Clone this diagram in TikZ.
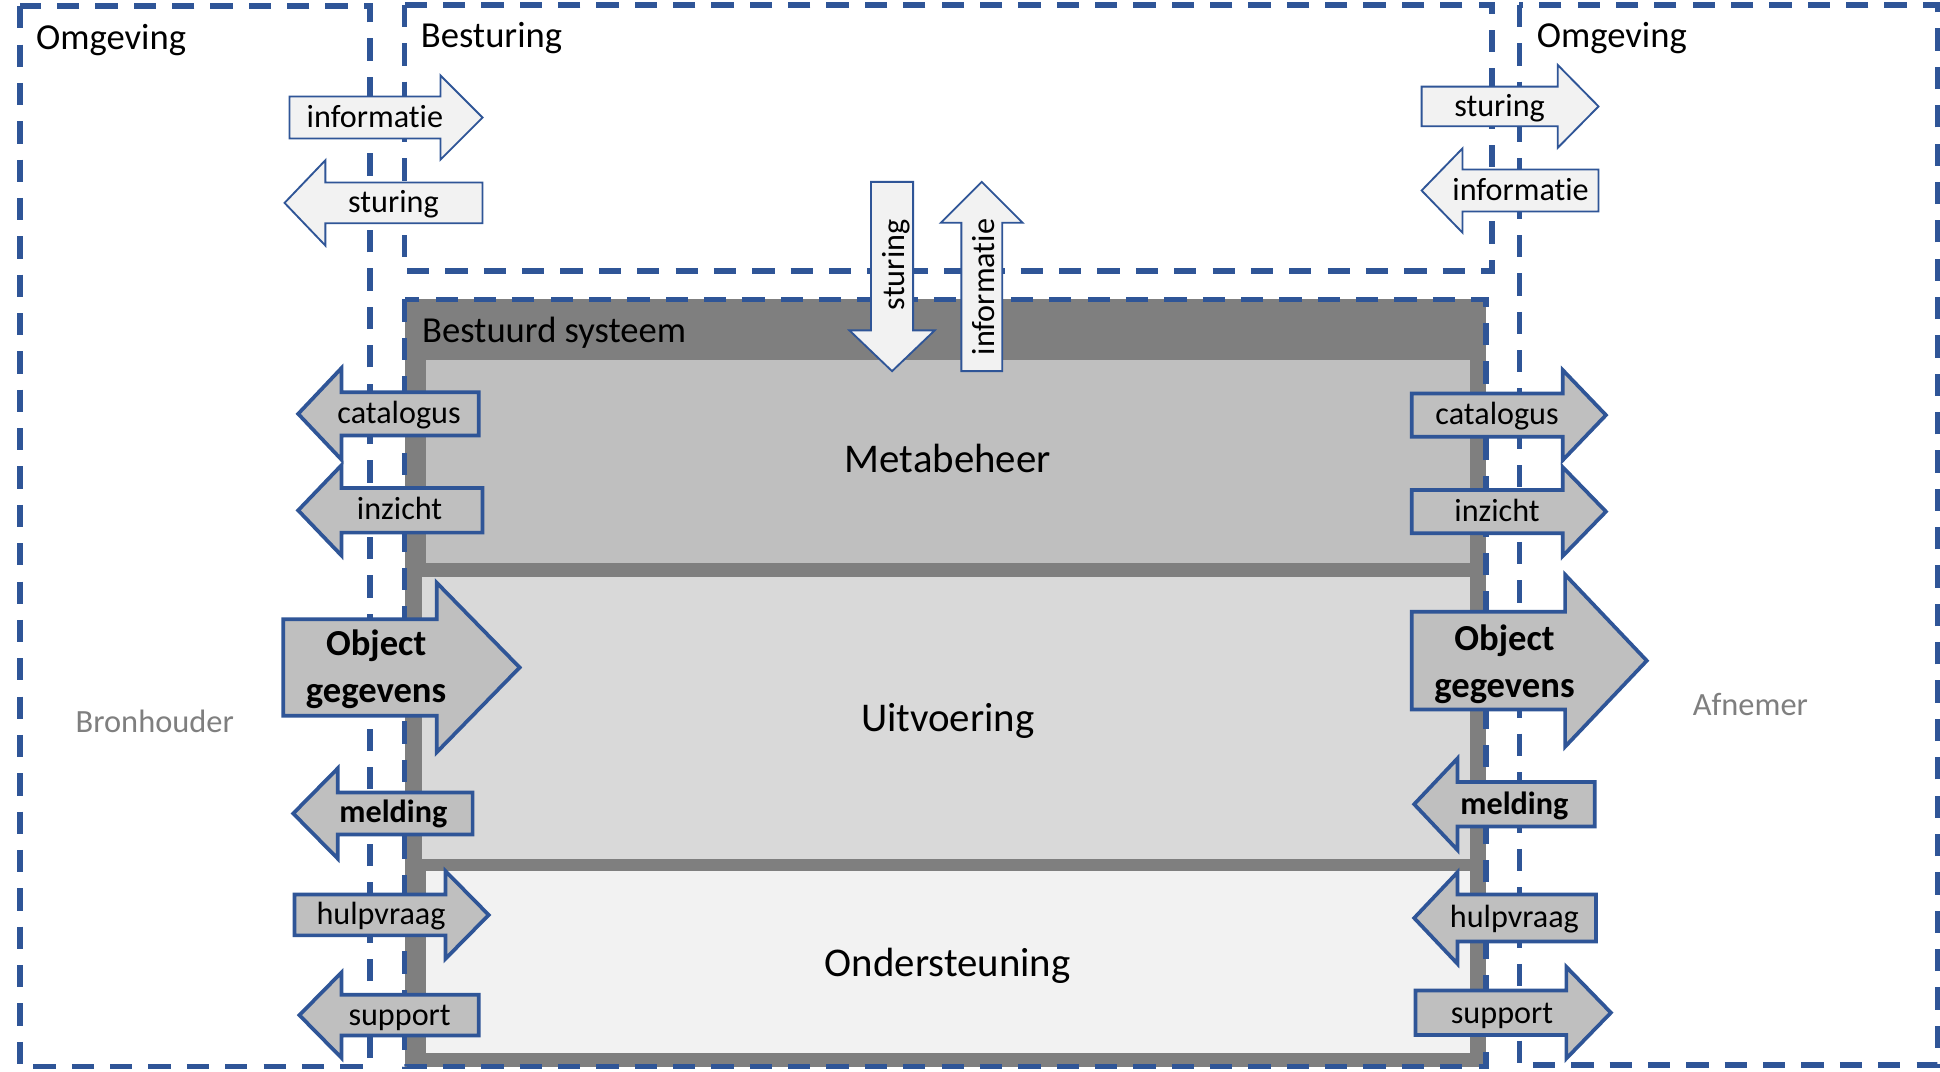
\documentclass[tikz,border=0pt]{standalone}
\usepackage{fontspec}
\setmainfont{Carlito}[Ligatures={NoCommon,NoContextual}]
\definecolor{dblue}{HTML}{2F5597}
\definecolor{outergray}{HTML}{7F7F7F}
\definecolor{metagray}{HTML}{BFBFBF}
\definecolor{uitgray}{HTML}{D9D9D9}
\definecolor{ondgray}{HTML}{F2F2F2}
\definecolor{lightfill}{HTML}{F2F2F2}
\definecolor{arrfill}{HTML}{BFBFBF}
\definecolor{sidetext}{HTML}{7F7F7F}
% horizontal arrow: style, tail x, base x, tip x, centre y, body half, head half
\newcommand\HArrow[7]{%
  \draw[#1] ({#2},{#5-#6}) -- ({#3},{#5-#6}) -- ({#3},{#5-#7}) -- ({#4},{#5})
    -- ({#3},{#5+#7}) -- ({#3},{#5+#6}) -- ({#2},{#5+#6}) -- cycle;}
% vertical arrow: style, tail y, base y, tip y, centre x, body half, head half
\newcommand\VArrow[7]{%
  \draw[#1] ({#5-#6},{#2}) -- ({#5-#6},{#3}) -- ({#5-#7},{#3}) -- ({#5},{#4})
    -- ({#5+#7},{#3}) -- ({#5+#6},{#3}) -- ({#5+#6},{#2}) -- cycle;}
\begin{document}
\begin{tikzpicture}[x=1pt,y=-1pt,
  dbox/.style={draw=dblue, line width=4.5pt, dash pattern=on 18pt off 13pt},
  lightarr/.style={draw=dblue, line width=1.5pt, fill=lightfill, line join=miter},
  grayarr/.style={draw=dblue, line width=3pt, fill=arrfill, line join=miter},
  title/.style={inner sep=0pt, anchor=base west, font=\fontsize{29.6}{35}\selectfont},
  section/.style={inner sep=0pt, anchor=base, font=\fontsize{33}{40}\selectfont},
  side/.style={inner sep=0pt, anchor=base west, text=sidetext, font=\fontsize{26.2}{31}\selectfont},
  lbl/.style={inner sep=0pt, anchor=base, font=\fontsize{26}{31}\selectfont},
  blbl/.style={inner sep=0pt, anchor=base, font=\bfseries\fontsize{26}{31}\selectfont},
  objlbl/.style={inner sep=0pt, anchor=center, align=center, font=\bfseries\fontsize{29.6}{38}\selectfont},
  vlbl/.style={inner sep=0pt, anchor=center, rotate=90, font=\fontsize{26}{31}\selectfont}]
\useasboundingbox (0,0) rectangle (1568,866);
\fill[white] (0,0) rectangle (1568,866);

% environment and control boxes
\draw[dbox] (16,5) rectangle (299,862);
\draw[dbox] (1228,4) rectangle (1566,861);
\draw[dbox] (327,4) rectangle (1206,219);

\node[title] (omgL) at (29,40) {Omgeving};
\node[title] (omgR) at (1242,38) {Omgeving};
\node[title] (best) at (340,38) {Besturing};

\node[side] (bron) at (61,592) {Bronhouder};
\node[side] (afn) at (1368,578) {Afnemer};

% controlled system
\fill[outergray] (327,242) rectangle (1201,862);
\fill[metagray] (344,291) rectangle (1188,455);
\fill[uitgray] (341,466) rectangle (1188,694);
\fill[ondgray] (344,704) rectangle (1188,851);
\draw[dbox] (327,242) rectangle (1201,862);

\node[title] (bsys) at (341,277) {Bestuurd systeem};
\node[section] (meta) at (766,382) {Metabeheer};
\node[section] (uitv) at (766,591) {Uitvoering};
\node[section] (onde) at (766,789) {Ondersteuning};

% control arrows (light)
\HArrow{lightarr}{234}{356}{390}{95}{17}{34}
\node[lbl] (infoL) at (303,103) {informatie};
\HArrow{lightarr}{390}{263}{230}{164}{16.5}{34.5}
\node[lbl] (sturL) at (318,172) {sturing};
\HArrow{lightarr}{1149}{1259}{1292}{86}{16}{33.5}
\node[lbl] (sturR) at (1212,94) {sturing};
\HArrow{lightarr}{1292}{1182}{1149}{154}{17}{34}
\node[lbl] (infoR) at (1229,162) {informatie};
\VArrow{lightarr}{147}{267}{300}{721}{17}{34.5}
\node[vlbl] (sturV) at (724,214) {sturing};
\VArrow{lightarr}{300}{180}{147}{793.5}{16.5}{33}
\node[vlbl] (infoV) at (795,232) {informatie};

% left side arrows
\HArrow{grayarr}{387}{276}{241}{334.5}{17.5}{37}
\node[lbl] (catL) at (322.5,342) {catalogus};
\HArrow{grayarr}{390}{276}{241}{412.5}{18}{36.5}
\node[lbl] (inzL) at (323,420) {inzicht};
\HArrow{grayarr}{229}{353}{420}{539.5}{39}{68.5}
\node[objlbl] (objL) at (304,541) {Object\\gegevens};
\HArrow{grayarr}{382}{273}{237}{657.5}{17}{36.5}
\node[blbl] (melL) at (318,665) {melding};
\HArrow{grayarr}{238}{360}{395}{739.5}{16.5}{35.5}
\node[lbl] (hulL) at (308,747.5) {hulpvraag};
\HArrow{grayarr}{387}{276}{242}{820.5}{16.5}{34.5}
\node[lbl] (supL) at (323,828.5) {support};

% right side arrows
\HArrow{grayarr}{1141}{1263}{1298}{335.5}{17.5}{36.5}
\node[lbl] (catR) at (1210,343) {catalogus};
\HArrow{grayarr}{1141}{1263}{1298}{413.5}{17.5}{36}
\node[lbl] (inzR) at (1210,421.5) {inzicht};
\HArrow{grayarr}{1141}{1265}{1331}{534}{39.5}{69.5}
\node[objlbl] (objR) at (1216,537) {Object\\gegevens};
\HArrow{grayarr}{1289}{1178}{1143}{650}{18}{37}
\node[blbl] (melR) at (1224,658) {melding};
\HArrow{grayarr}{1290}{1178}{1143}{742}{19}{37}
\node[lbl] (hulR) at (1224,750) {hulpvraag};
\HArrow{grayarr}{1144}{1266}{1302}{818.5}{18}{37}
\node[lbl] (supR) at (1214,827) {support};
\end{tikzpicture}
\end{document}
